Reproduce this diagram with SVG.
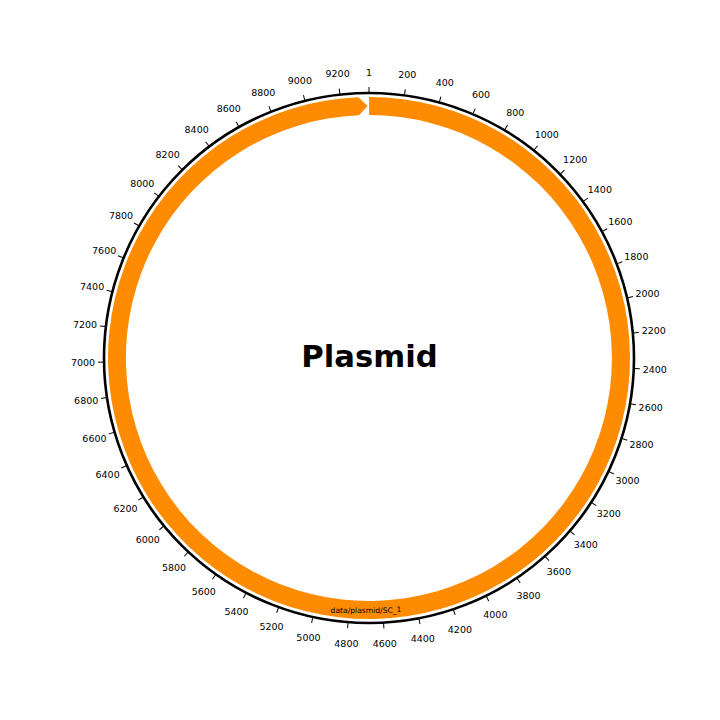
<svg xmlns="http://www.w3.org/2000/svg" width="720" height="720" viewBox="0 0 720 720">
<style>
.tk{stroke:#000;stroke-width:1}
.lb{font-family:"DejaVu Sans",sans-serif;font-size:9.5px;fill:#000;text-anchor:middle;dominant-baseline:central}
</style>
<defs>
<g id="t"><line class="tk" x1="369" y1="93" x2="369" y2="87"/></g>
</defs>
<rect width="720" height="720" fill="#fff"/>
<g id="feature">
<path d="M369,97 A261,261 0 1 1 358.30,97.22 L367.68,106.00 L359.04,115.20 A243,243 0 1 0 369,115 Z" fill="#ff8c00"/>
<text x="366" y="613" font-family="DejaVu Sans, sans-serif" font-size="7.6" text-anchor="middle" fill="#000">data/plasmid/SC_<tspan dy="-1.5">1</tspan></text>
</g>
<g id="axis">
<circle cx="369" cy="358" r="265" fill="none" stroke="#000" stroke-width="2.6"/>
</g>
<g id="ticks">
<use href="#t" transform="rotate(0 369 358)"/>
<use href="#t" transform="rotate(7.689 369 358)"/>
<use href="#t" transform="rotate(15.378 369 358)"/>
<use href="#t" transform="rotate(23.067 369 358)"/>
<use href="#t" transform="rotate(30.756 369 358)"/>
<use href="#t" transform="rotate(38.445 369 358)"/>
<use href="#t" transform="rotate(46.134 369 358)"/>
<use href="#t" transform="rotate(53.823 369 358)"/>
<use href="#t" transform="rotate(61.512 369 358)"/>
<use href="#t" transform="rotate(69.201 369 358)"/>
<use href="#t" transform="rotate(76.890 369 358)"/>
<use href="#t" transform="rotate(84.579 369 358)"/>
<use href="#t" transform="rotate(92.268 369 358)"/>
<use href="#t" transform="rotate(99.957 369 358)"/>
<use href="#t" transform="rotate(107.646 369 358)"/>
<use href="#t" transform="rotate(115.335 369 358)"/>
<use href="#t" transform="rotate(123.024 369 358)"/>
<use href="#t" transform="rotate(130.713 369 358)"/>
<use href="#t" transform="rotate(138.402 369 358)"/>
<use href="#t" transform="rotate(146.091 369 358)"/>
<use href="#t" transform="rotate(153.780 369 358)"/>
<use href="#t" transform="rotate(161.469 369 358)"/>
<use href="#t" transform="rotate(169.158 369 358)"/>
<use href="#t" transform="rotate(176.847 369 358)"/>
<use href="#t" transform="rotate(184.536 369 358)"/>
<use href="#t" transform="rotate(192.226 369 358)"/>
<use href="#t" transform="rotate(199.915 369 358)"/>
<use href="#t" transform="rotate(207.604 369 358)"/>
<use href="#t" transform="rotate(215.293 369 358)"/>
<use href="#t" transform="rotate(222.982 369 358)"/>
<use href="#t" transform="rotate(230.671 369 358)"/>
<use href="#t" transform="rotate(238.360 369 358)"/>
<use href="#t" transform="rotate(246.049 369 358)"/>
<use href="#t" transform="rotate(253.738 369 358)"/>
<use href="#t" transform="rotate(261.427 369 358)"/>
<use href="#t" transform="rotate(269.116 369 358)"/>
<use href="#t" transform="rotate(276.805 369 358)"/>
<use href="#t" transform="rotate(284.494 369 358)"/>
<use href="#t" transform="rotate(292.183 369 358)"/>
<use href="#t" transform="rotate(299.872 369 358)"/>
<use href="#t" transform="rotate(307.561 369 358)"/>
<use href="#t" transform="rotate(315.250 369 358)"/>
<use href="#t" transform="rotate(322.939 369 358)"/>
<use href="#t" transform="rotate(330.628 369 358)"/>
<use href="#t" transform="rotate(338.317 369 358)"/>
<use href="#t" transform="rotate(346.006 369 358)"/>
<use href="#t" transform="rotate(353.695 369 358)"/>
</g>
<g id="labels">
<text class="lb" x="369" y="72" transform="rotate(0 369 358)">1</text>
<text class="lb" x="369" y="72" transform="rotate(7.689 369 358) rotate(-7.689 369 72)">200</text>
<text class="lb" x="369" y="72" transform="rotate(15.378 369 358) rotate(-15.378 369 72)">400</text>
<text class="lb" x="369" y="72" transform="rotate(23.067 369 358) rotate(-23.067 369 72)">600</text>
<text class="lb" x="369" y="72" transform="rotate(30.756 369 358) rotate(-30.756 369 72)">800</text>
<text class="lb" x="369" y="72" transform="rotate(38.445 369 358) rotate(-38.445 369 72)">1000</text>
<text class="lb" x="369" y="72" transform="rotate(46.134 369 358) rotate(-46.134 369 72)">1200</text>
<text class="lb" x="369" y="72" transform="rotate(53.823 369 358) rotate(-53.823 369 72)">1400</text>
<text class="lb" x="369" y="72" transform="rotate(61.512 369 358) rotate(-61.512 369 72)">1600</text>
<text class="lb" x="369" y="72" transform="rotate(69.201 369 358) rotate(-69.201 369 72)">1800</text>
<text class="lb" x="369" y="72" transform="rotate(76.890 369 358) rotate(-76.890 369 72)">2000</text>
<text class="lb" x="369" y="72" transform="rotate(84.579 369 358) rotate(-84.579 369 72)">2200</text>
<text class="lb" x="369" y="72" transform="rotate(92.268 369 358) rotate(-92.268 369 72)">2400</text>
<text class="lb" x="369" y="72" transform="rotate(99.957 369 358) rotate(-99.957 369 72)">2600</text>
<text class="lb" x="369" y="72" transform="rotate(107.646 369 358) rotate(-107.646 369 72)">2800</text>
<text class="lb" x="369" y="72" transform="rotate(115.335 369 358) rotate(-115.335 369 72)">3000</text>
<text class="lb" x="369" y="72" transform="rotate(123.024 369 358) rotate(-123.024 369 72)">3200</text>
<text class="lb" x="369" y="72" transform="rotate(130.713 369 358) rotate(-130.713 369 72)">3400</text>
<text class="lb" x="369" y="72" transform="rotate(138.402 369 358) rotate(-138.402 369 72)">3600</text>
<text class="lb" x="369" y="72" transform="rotate(146.091 369 358) rotate(-146.091 369 72)">3800</text>
<text class="lb" x="369" y="72" transform="rotate(153.780 369 358) rotate(-153.780 369 72)">4000</text>
<text class="lb" x="369" y="72" transform="rotate(161.469 369 358) rotate(-161.469 369 72)">4200</text>
<text class="lb" x="369" y="72" transform="rotate(169.158 369 358) rotate(-169.158 369 72)">4400</text>
<text class="lb" x="369" y="72" transform="rotate(176.847 369 358) rotate(-176.847 369 72)">4600</text>
<text class="lb" x="369" y="72" transform="rotate(184.536 369 358) rotate(-184.536 369 72)">4800</text>
<text class="lb" x="369" y="72" transform="rotate(192.226 369 358) rotate(-192.226 369 72)">5000</text>
<text class="lb" x="369" y="72" transform="rotate(199.915 369 358) rotate(-199.915 369 72)">5200</text>
<text class="lb" x="369" y="72" transform="rotate(207.604 369 358) rotate(-207.604 369 72)">5400</text>
<text class="lb" x="369" y="72" transform="rotate(215.293 369 358) rotate(-215.293 369 72)">5600</text>
<text class="lb" x="369" y="72" transform="rotate(222.982 369 358) rotate(-222.982 369 72)">5800</text>
<text class="lb" x="369" y="72" transform="rotate(230.671 369 358) rotate(-230.671 369 72)">6000</text>
<text class="lb" x="369" y="72" transform="rotate(238.360 369 358) rotate(-238.360 369 72)">6200</text>
<text class="lb" x="369" y="72" transform="rotate(246.049 369 358) rotate(-246.049 369 72)">6400</text>
<text class="lb" x="369" y="72" transform="rotate(253.738 369 358) rotate(-253.738 369 72)">6600</text>
<text class="lb" x="369" y="72" transform="rotate(261.427 369 358) rotate(-261.427 369 72)">6800</text>
<text class="lb" x="369" y="72" transform="rotate(269.116 369 358) rotate(-269.116 369 72)">7000</text>
<text class="lb" x="369" y="72" transform="rotate(276.805 369 358) rotate(-276.805 369 72)">7200</text>
<text class="lb" x="369" y="72" transform="rotate(284.494 369 358) rotate(-284.494 369 72)">7400</text>
<text class="lb" x="369" y="72" transform="rotate(292.183 369 358) rotate(-292.183 369 72)">7600</text>
<text class="lb" x="369" y="72" transform="rotate(299.872 369 358) rotate(-299.872 369 72)">7800</text>
<text class="lb" x="369" y="72" transform="rotate(307.561 369 358) rotate(-307.561 369 72)">8000</text>
<text class="lb" x="369" y="72" transform="rotate(315.250 369 358) rotate(-315.250 369 72)">8200</text>
<text class="lb" x="369" y="72" transform="rotate(322.939 369 358) rotate(-322.939 369 72)">8400</text>
<text class="lb" x="369" y="72" transform="rotate(330.628 369 358) rotate(-330.628 369 72)">8600</text>
<text class="lb" x="369" y="72" transform="rotate(338.317 369 358) rotate(-338.317 369 72)">8800</text>
<text class="lb" x="369" y="72" transform="rotate(346.006 369 358) rotate(-346.006 369 72)">9000</text>
<text class="lb" x="369" y="72" transform="rotate(353.695 369 358) rotate(-353.695 369 72)">9200</text>
</g>
<g id="title">
<text x="369.5" y="367" font-family="DejaVu Sans, sans-serif" font-weight="bold" font-size="30.7" text-anchor="middle" fill="#000">Plasmid</text>
</g>
</svg>
